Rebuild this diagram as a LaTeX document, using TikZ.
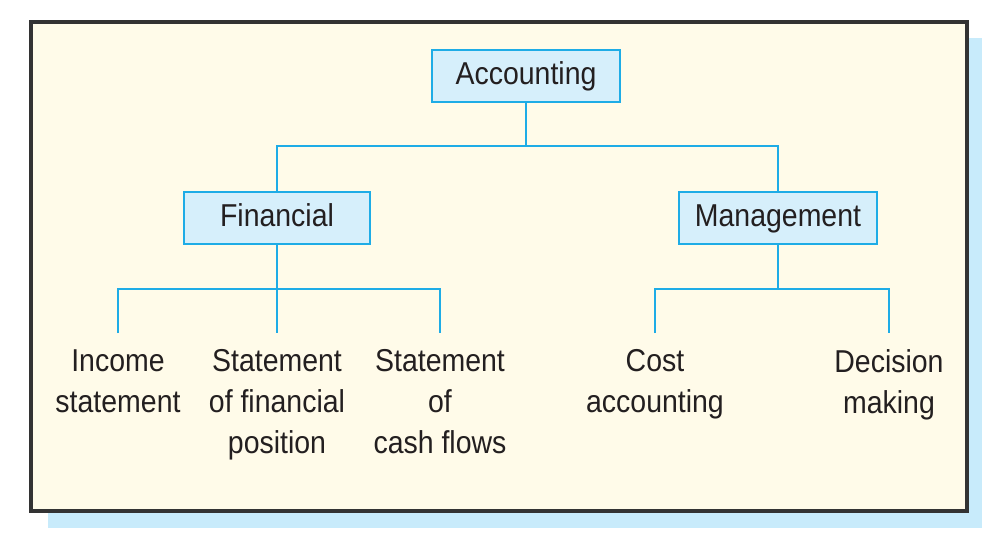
\documentclass[tikz,border=0pt]{standalone}
\usepackage{fontspec}
\setmainfont{Liberation Sans}[FakeStretch=0.9]
\usepackage{xcolor}
\definecolor{chartcyan}{RGB}{30,172,230}
\definecolor{chartpale}{RGB}{214,239,251}
\definecolor{chartcream}{RGB}{255,251,233}
\definecolor{chartshade}{RGB}{200,235,251}
\definecolor{chartink}{RGB}{35,31,32}
\usetikzlibrary{positioning}
\tikzset{
  headbox/.style={rectangle,draw=chartcyan,fill=chartpale,line width=1.6pt,
                  minimum height=10.4mm,inner sep=0pt,text=chartink,
                  text height=12.9pt,text depth=3.2pt,
                  font=\fontsize{18}{23.3}\selectfont},
  leaf/.style   ={align=center,inner xsep=0pt,inner ysep=3.2mm,anchor=north,
                  text=chartink,font=\fontsize{18}{23.3}\selectfont},
  link/.style   ={draw=chartcyan,line width=1.5pt},
}
\begin{document}
\begin{tikzpicture}
  \useasboundingbox (0,0) rectangle (20,-11);
  % frame with its shadow
  \fill[chartshade] (0.96,-0.76) rectangle (19.64,-10.56);
  \draw[fill=chartcream,draw=black!80,line width=1.8pt] (0.62,-0.44) rectangle (19.34,-10.22);
  % boxes
  \node[headbox,minimum width=37.6mm] (acc) at (10.52,-1.52) {Accounting};
  \node[headbox,minimum width=37.2mm] (fin) at (5.54,-4.36) {Financial};
  \node[headbox,minimum width=39.6mm] (man) at (15.56,-4.36) {Management};
  % branch points
  \coordinate (topbar) at (10.52,-2.92);
  \coordinate (finbar) at (5.54,-5.78);
  \coordinate (manbar) at (15.56,-5.78);
  % leaves
  \node[leaf] (inc) at (2.36,-6.66) {Income\\statement};
  \node[leaf] (sfp) at (5.54,-6.66) {Statement\\of financial\\position};
  \node[leaf] (scf) at (8.80,-6.66) {Statement\\of\\cash flows};
  \node[leaf] (cost) at (13.10,-6.66) {Cost\\accounting};
  \node[leaf] (dec) at (17.78,-6.66) {Decision\\making};
  % connectors
  \draw[link] (acc) -- (topbar);
  \draw[link] (fin) |- (topbar) -| (man);
  \draw[link] (fin) -- (finbar);
  \draw[link] (inc) |- (finbar) -| (scf);
  \draw[link] (finbar) -- (sfp);
  \draw[link] (man) -- (manbar);
  \draw[link] (cost) |- (manbar) -| (dec);
\end{tikzpicture}
\end{document}
